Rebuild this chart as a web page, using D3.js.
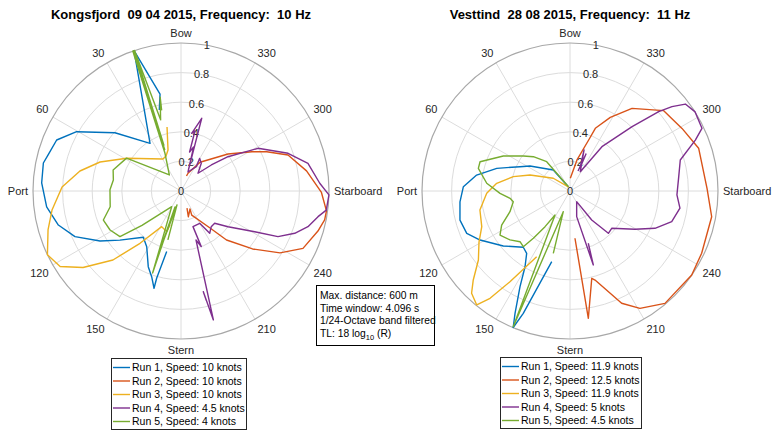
<!DOCTYPE html>
<html>
<head>
<meta charset="utf-8">
<script src="https://cdn.jsdelivr.net/npm/d3@7/dist/d3.min.js"></script>
<style>
  body { margin: 0; background: #fff; }
  text { font-family: "Liberation Sans", Arial, Helvetica, sans-serif; white-space: pre; }
</style>
</head>
<body>
<svg id="chart" width="774" height="432"></svg>
<script>
// Polar grid ticks (angle in degrees, counter-clockwise from the bow)
const thetaTicks = [0, 30, 60, 90, 120, 150, 180, 210, 240, 270, 300, 330];
const thetaLabels = ["Bow", "30", "60", "Port", "120", "150", "Stern", "210", "240", "Starboard", "300", "330"];
const rTicks = [0, 0.2, 0.4, 0.6, 0.8, 1];
const rTickLabels = ["0", "0.2", "0.4", "0.6", "0.8", "1"];
const runColors = ["#0072BD", "#D95319", "#EDB120", "#7E2F8E", "#77AC30"];

// Kongsfjord 09 04 2015, 10 Hz — [theta (deg), normalised level]
const kongRun1 = [[15.0,0.567],[12.2,0.670],[18.5,1.0],[33.0,0.384],[48.6,0.595],[60.4,0.811],[67.7,0.908],[74.9,0.931],[78.5,0.949],[86.7,0.943],[96.7,0.914],[105.5,0.86],[113.3,0.78],[121.7,0.643],[128.8,0.53],[140.8,0.403],[148.4,0.442],[156.6,0.557],[161.1,0.612],[164.5,0.682],[164.4,0.61],[166.7,0.42]];
const kongRun2 = [[339.9,0.108],[338.4,0.129],[326.5,0.233],[308.2,0.404],[299,0.548],[294.6,0.637],[288.6,0.763],[279.1,0.859],[269.4,0.949],[262.2,0.992],[258.6,0.99],[253.7,0.964],[244.8,0.911],[238,0.789],[231,0.622],[222.9,0.452],[218.1,0.318],[204,0.178],[206.6,0.136],[195.9,0.181],[199.4,0.122]];
const kongRun3 = [[12.3,0.443],[17.6,0.29],[23.2,0.257],[29.4,0.248],[58.9,0.428],[70.3,0.581],[78.8,0.696],[88.1,0.804],[98.4,0.881],[106.3,0.936],[115.5,1.0],[122,0.963],[128,0.84],[135.4,0.655],[141.9,0.449],[151.6,0.274],[160.6,0.291],[162,0.24]];
const kongRun4 = [[340.5,0.15],[344.1,0.511],[349.5,0.396],[346.9,0.416],[347.6,0.27],[344,0.31],[339.8,0.137],[327.8,0.194],[330.2,0.254],[323.8,0.232],[316.2,0.166],[310.6,0.27],[306.1,0.393],[299,0.595],[289.4,0.767],[282.3,0.878],[273.2,0.939],[268.5,1.0],[262.5,0.99],[259.4,0.942],[254.3,0.891],[249.6,0.82],[244.8,0.724],[241.1,0.569],[232.8,0.399],[226.2,0.315],[220.3,0.316],[214.2,0.345],[212.4,0.299],[210.1,0.252],[198.6,0.254],[200,0.40],[197,0.346],[194.1,0.898],[192.5,0.697],[193,0.76]];
const kongRun5 = [[13.5,0.56],[12.5,0.65],[16,0.5],[18.3,1.0],[20.5,0.33],[18.7,1.0],[21.5,0.3],[19,1.0],[23,0.277],[36,0.134],[58.9,0.43],[72.8,0.48],[80.8,0.463],[89,0.48],[102.5,0.49],[110.5,0.56],[118.8,0.547],[126.8,0.515],[131.3,0.351],[149.4,0.123],[160.9,0.586],[159.4,0.115],[160.4,0.423],[164,0.098],[165,0.342]];
const kongLegend = ["Run 1, Speed: 10 knots", "Run 2, Speed: 10 knots", "Run 3, Speed: 10 knots", "Run 4, Speed: 4.5 knots", "Run 5, Speed: 4 knots"];

// Vesttind 28 08 2015, 11 Hz
const vestRun1 = [[21.6,0.031],[38.5,0.181],[58,0.319],[64.1,0.376],[72.8,0.518],[80.3,0.64],[87.7,0.721],[95.6,0.747],[104.8,0.769],[112.3,0.754],[118.6,0.692],[129.5,0.584],[140.3,0.494],[145.2,0.513],[149.3,0.595],[152.4,0.729],[155.8,0.906],[157.4,0.999],[159.1,0.885],[165.5,0.493]];
const vestRun2 = [[358.6,0.086],[347.3,0.215],[339.9,0.367],[338,0.457],[331.3,0.567],[323.1,0.698],[310.6,0.834],[299.2,0.867],[288.4,0.916],[271.1,0.926],[259.7,0.973],[244.7,0.984],[235.4,0.999],[220.2,0.994],[210.8,0.923],[204.7,0.835],[195.7,0.625],[194,0.608],[188.2,0.869],[186,0.321]];
const vestRun3 = [[21.6,0.03],[52.7,0.142],[68.2,0.291],[75.8,0.395],[84,0.498],[91.6,0.563],[101.9,0.622],[112,0.643],[119.3,0.705],[127,0.775],[132.6,0.888],[136.1,0.959],[140.7,0.995],[143.3,0.904],[146.5,0.735],[153.1,0.498]];
const vestRun4 = [[338.2,0.146],[336.6,0.272],[336.5,0.169],[341.1,0.293],[331.9,0.148],[324.2,0.369],[316,0.604],[311.8,0.804],[309.6,0.894],[307,0.976],[302.3,1.0],[295.4,0.987],[292.1,0.914],[285.7,0.774],[277.5,0.741],[267.9,0.723],[261.1,0.752],[253.2,0.718],[246.3,0.627],[239.5,0.51],[228.2,0.378],[222.2,0.386],[216.8,0.245],[212,0.085],[194.6,0.179],[197.5,0.524],[199.3,0.374]];
const vestRun5 = [[20,0.03],[38.5,0.253],[46.9,0.339],[53.1,0.394],[62.3,0.509],[72,0.639],[76.1,0.638],[84.7,0.565],[91.9,0.473],[96.9,0.408],[100.7,0.39],[109,0.429],[116.5,0.516],[122.2,0.559],[129.2,0.523],[135.4,0.481],[140,0.491],[142.2,0.404],[145,0.294],[148,0.191],[157.3,0.994],[162,0.147],[165,0.436]];
const vestLegend = ["Run 1, Speed: 11.9 knots", "Run 2, Speed: 12.5 knots", "Run 3, Speed: 11.9 knots", "Run 4, Speed: 5 knots", "Run 5, Speed: 4.5 knots"];

const svg = d3.select("#chart");
const R = 148;
const rScale = d3.scaleLinear().domain([0, 1]).range([0, R]);
// counter-clockwise degrees -> d3 radial angle (clockwise radians from 12 o'clock)
const aScale = d3.scaleLinear().domain([0, 360]).range([0, -2 * Math.PI]);

function drawPolar(cx, cy, title, runs, legend, lg) {
  const g = svg.append("g").attr("transform", `translate(${cx},${cy})`);

  // rings
  g.selectAll("circle.ring").data(rTicks.filter(d => d > 0 && d < 1)).join("circle")
    .attr("r", d => rScale(d)).attr("fill", "none")
    .attr("stroke", "#dcdcdc").attr("stroke-width", 1);
  // spokes
  g.selectAll("line.spoke").data(thetaTicks).join("line")
    .attr("x1", 0).attr("y1", 0)
    .attr("x2", d => d3.pointRadial(aScale(d), rScale(1))[0])
    .attr("y2", d => d3.pointRadial(aScale(d), rScale(1))[1])
    .attr("stroke", "#dcdcdc").attr("stroke-width", 1);
  // outer edge
  g.append("circle").attr("r", rScale(1)).attr("fill", "none")
    .attr("stroke", "#a8a8a8").attr("stroke-width", 1.2);

  // theta labels
  thetaTicks.forEach((t, i) => {
    const [x, y] = d3.pointRadial(aScale(t), 153);
    let anchor = "middle";
    if (t > 0 && t < 180) anchor = "end";
    if (t > 180) anchor = "start";
    let by;
    if (t === 90 || t === 270) by = y + 4;
    else if (t < 90 || t > 270) by = y - 1.5;
    else by = y + 9.5;
    g.append("text").attr("x", x).attr("y", by).attr("text-anchor", anchor)
      .attr("font-size", 11).attr("fill", "#262626").text(thetaLabels[i]);
  });

  // radial tick labels along 350°
  rTicks.forEach((r, i) => {
    const [x, y] = d3.pointRadial(aScale(350), rScale(r));
    g.append("text").attr("x", x).attr("y", y + 4).attr("text-anchor", "middle")
      .attr("font-size", 11).attr("fill", "#262626").text(rTickLabels[i]);
  });

  // data lines
  const line = d3.lineRadial()
    .angle(d => aScale(d[0]))
    .radius(d => rScale(d[1]));
  runs.forEach((run, i) => {
    g.append("path").attr("d", line(run)).attr("fill", "none")
      .attr("stroke", runColors[i]).attr("stroke-width", 1.4)
      .attr("stroke-linejoin", "round");
  });

  // title
  svg.append("text").attr("x", cx).attr("y", 18.5).attr("text-anchor", "middle")
    .attr("font-size", 13).attr("font-weight", "bold").attr("fill", "#000").text(title);

  // legend
  const lgG = svg.append("g");
  lgG.append("rect").attr("x", lg.x + 0.5).attr("y", lg.y + 0.5)
    .attr("width", lg.w).attr("height", lg.h)
    .attr("fill", "#fff").attr("stroke", "#262626").attr("stroke-width", 1);
  legend.forEach((lab, i) => {
    const y = lg.y + 9.5 + i * 13.5;
    lgG.append("line").attr("x1", lg.x + 2).attr("x2", lg.x + 19)
      .attr("y1", y).attr("y2", y).attr("stroke", runColors[i]).attr("stroke-width", 1.4);
    lgG.append("text").attr("x", lg.x + 21).attr("y", y + 3.8)
      .attr("font-size", 10.5).attr("fill", "#000").text(lab);
  });
}

drawPolar(181, 191, "Kongsfjord  09 04 2015, Frequency:  10 Hz",
  [kongRun1, kongRun2, kongRun3, kongRun4, kongRun5], kongLegend,
  { x: 111, y: 358, w: 135, h: 71 });
drawPolar(570, 191, "Vesttind  28 08 2015, Frequency:  11 Hz",
  [vestRun1, vestRun2, vestRun3, vestRun4, vestRun5], vestLegend,
  { x: 500, y: 357, w: 141, h: 71 });

// processing note box
const note = svg.append("g");
note.append("rect").attr("x", 316.5).attr("y", 285.5).attr("width", 118).attr("height", 60)
  .attr("fill", "#fff").attr("stroke", "#000").attr("stroke-width", 1);
const noteLines = ["Max. distance: 600 m", "Time window: 4.096 s", "1/24-Octave band filtered"];
noteLines.forEach((t, i) => {
  note.append("text").attr("x", 320).attr("y", 298.7 + i * 12.8)
    .attr("font-size", 10.3).attr("fill", "#000").text(t);
});
const tl = note.append("text").attr("x", 320).attr("y", 337).attr("font-size", 10.3).attr("fill", "#000");
tl.append("tspan").text("TL: 18 log");
tl.append("tspan").attr("font-size", 7.5).attr("dy", 3).text("10");
tl.append("tspan").attr("dy", -3).text(" (R)");
</script>
</body>
</html>
